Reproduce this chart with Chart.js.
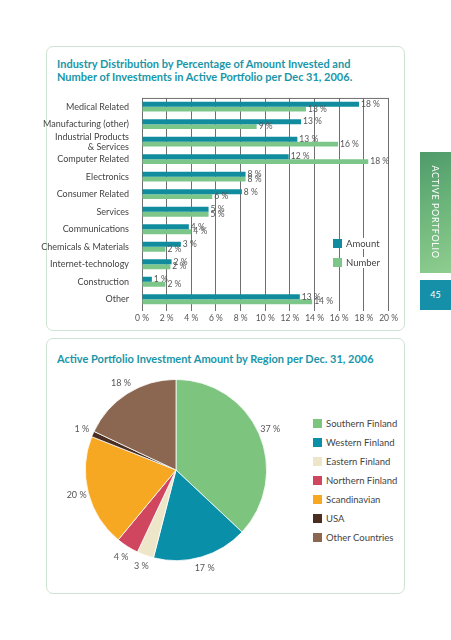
<!DOCTYPE html>
<html lang="en">
<head>
    <meta charset="UTF-8">
    <title>Active Portfolio</title>
    <script src="https://cdn.jsdelivr.net/npm/chart.js@4.4.1/dist/chart.umd.min.js"></script>
    <style>
        body { margin: 0; width: 451px; height: 640px; background: #fff; position: relative; overflow: hidden; font-family: Lato, sans-serif; }
        .panel { position: absolute; left: 46px; width: 357px; border: 1.5px solid #cfe3d2; border-radius: 7px; }
        .title { position: absolute; left: 57px; color: #1a96a8; font-size: 11px; font-weight: bold; line-height: 13px; }
        .legend { position: absolute; font-size: 9.5px; color: #444; }
        .legend div { height: 19px; display: flex; align-items: center; }
        .legend span.box { display: inline-block; width: 9px; height: 9px; margin-right: 3px; }
        .legend span.txt { background: #fff; padding: 0 1px; }
        canvas { position: absolute; }
        #tab { position: absolute; left: 420px; top: 152px; width: 31px; height: 121px;
               background: linear-gradient(160deg, #4f9a6a 0%, #6bb47a 45%, #8fcd8f 100%); }
        #tab span { position: absolute; left: 15px; top: 60px; transform: translate(-50%, -50%) rotate(90deg);
                    color: #fff; font-size: 9px; letter-spacing: 0.6px; white-space: nowrap; }
        #page { position: absolute; left: 420px; top: 280px; width: 31px; height: 30px; background: #1590a8;
                color: #fff; font-size: 9px; text-align: center; line-height: 30px; }
    </style>
</head>
<body>
<div class="panel" style="top: 46px; height: 283px;"></div>
<div class="panel" style="top: 338px; height: 254px;"></div>
<div class="title" style="top: 57px;">Industry Distribution by Percentage of Amount Invested and<br>Number of Investments in Active Portfolio per Dec 31, 2006.</div>
<div class="title" style="top: 352px;">Active Portfolio Investment Amount by Region per Dec. 31, 2006</div>

<canvas id="barChart" width="360" height="240" style="left: 40px; top: 88px;"></canvas>
<canvas id="pieChart" width="240" height="220" style="left: 56px; top: 360px;"></canvas>

<div id="barLegend" class="legend" style="left: 333px; top: 234px;"></div>
<div id="pieLegend" class="legend" style="left: 313px; top: 414px;"></div>

<div id="tab"><span>ACTIVE PORTFOLIO</span></div>
<div id="page">45</div>

<script>
    const industries = [
        'Medical Related', 'Manufacturing (other)', ['Industrial Products', '& Services'], 'Computer Related',
        'Electronics', 'Consumer Related', 'Services', 'Communications',
        'Chemicals & Materials', 'Internet-technology', 'Construction', 'Other'
    ];
    const amountPct = [17.6, 12.9, 12.6, 11.9, 8.4, 8.1, 5.4, 3.8, 3.15, 2.4, 0.8, 12.8];
    const numberPct = [13.3, 9.3, 15.9, 18.35, 8.4, 5.7, 5.4, 4.0, 1.9, 2.3, 1.9, 13.8];
    const barSeries = ['Amount', 'Number'];
    const barColors = ['#118c9e', '#7dc68a'];

    const regions = ['Southern Finland', 'Western Finland', 'Eastern Finland', 'Northern Finland',
        'Scandinavian', 'USA', 'Other Countries'];
    const regionPct = [37, 17, 3, 4, 20, 1, 18];
    const regionColors = ['#7dc47f', '#0a8fa8', '#ede6c8', '#d0465e', '#f7a823', '#4a2e22', '#8b6650'];

    const textColor = '#555';

    // legends as plain html
    function makeLegend(id, names, colors) {
        let el = document.getElementById(id);
        for (let i = 0; i < names.length; i++) {
            let row = document.createElement('div');
            row.innerHTML = '<span class="box" style="background:' + colors[i] + '"></span><span class="txt">' + names[i] + '</span>';
            el.appendChild(row);
        }
    }
    makeLegend('barLegend', barSeries, barColors);
    makeLegend('pieLegend', regions, regionColors);

    const barValueLabels = {
        id: 'barValueLabels',
        afterDatasetsDraw(chart) {
            let ctx = chart.ctx;
            ctx.save();
            ctx.font = '8.5px Lato';
            ctx.fillStyle = textColor;
            ctx.textBaseline = 'middle';
            chart.data.datasets.forEach((ds, di) => {
                chart.getDatasetMeta(di).data.forEach((bar, i) => {
                    ctx.fillText(Math.round(ds.data[i]) + ' %', bar.x + 2, bar.y);
                });
            });
            // top border of plot
            let a = chart.chartArea;
            ctx.strokeStyle = '#6f6f6f';
            ctx.lineWidth = 1;
            ctx.beginPath();
            ctx.moveTo(a.left, a.top + 0.5);
            ctx.lineTo(a.right, a.top + 0.5);
            ctx.stroke();
            ctx.restore();
        }
    };

    new Chart(document.getElementById('barChart'), {
        type: 'bar',
        data: {
            labels: industries,
            datasets: [
                { label: barSeries[0], data: amountPct, backgroundColor: barColors[0] },
                { label: barSeries[1], data: numberPct, backgroundColor: barColors[1] }
            ]
        },
        options: {
            indexAxis: 'y',
            responsive: false,
            animation: false,
            events: [],
            layout: { padding: { top: 5, right: 7 } },
            datasets: { bar: { categoryPercentage: 0.56, barPercentage: 1 } },
            plugins: { legend: { display: false }, tooltip: { enabled: false } },
            scales: {
                x: {
                    min: 0, max: 20,
                    afterFit: (s) => { s.height = 20; },
                    ticks: { stepSize: 2, callback: (v) => v + ' %', color: textColor, font: { size: 8.5, family: 'Lato' }, padding: 2 },
                    grid: { color: '#6f6f6f', tickLength: 3 },
                    border: { display: false }
                },
                y: {
                    afterFit: (s) => { s.width = 102; },
                    ticks: { autoSkip: false, color: '#444', font: { size: 9, family: 'Lato', lineHeight: 1.1 }, padding: 5 },
                    grid: { display: false },
                    border: { display: false }
                }
            }
        },
        plugins: [barValueLabels]
    });

    const pieLabels = {
        id: 'pieLabels',
        afterDatasetsDraw(chart) {
            let ctx = chart.ctx;
            ctx.save();
            ctx.font = '9px Lato';
            ctx.fillStyle = textColor;
            ctx.textAlign = 'center';
            ctx.textBaseline = 'middle';
            chart.getDatasetMeta(0).data.forEach((arc, i) => {
                let mid = (arc.startAngle + arc.endAngle) / 2;
                let r = arc.outerRadius + 12;
                ctx.fillText(regionPct[i] + ' %', arc.x + Math.cos(mid) * r, arc.y + Math.sin(mid) * r);
            });
            ctx.restore();
        }
    };

    new Chart(document.getElementById('pieChart'), {
        type: 'pie',
        data: {
            labels: regions,
            datasets: [{ data: regionPct, backgroundColor: regionColors, borderColor: '#fff', borderWidth: 0.8 }]
        },
        options: {
            responsive: false,
            animation: false,
            events: [],
            layout: { padding: { left: 19, right: 19, top: 19, bottom: 19 } },
            plugins: { legend: { display: false }, tooltip: { enabled: false } }
        },
        plugins: [pieLabels]
    });
</script>
</body>
</html>
